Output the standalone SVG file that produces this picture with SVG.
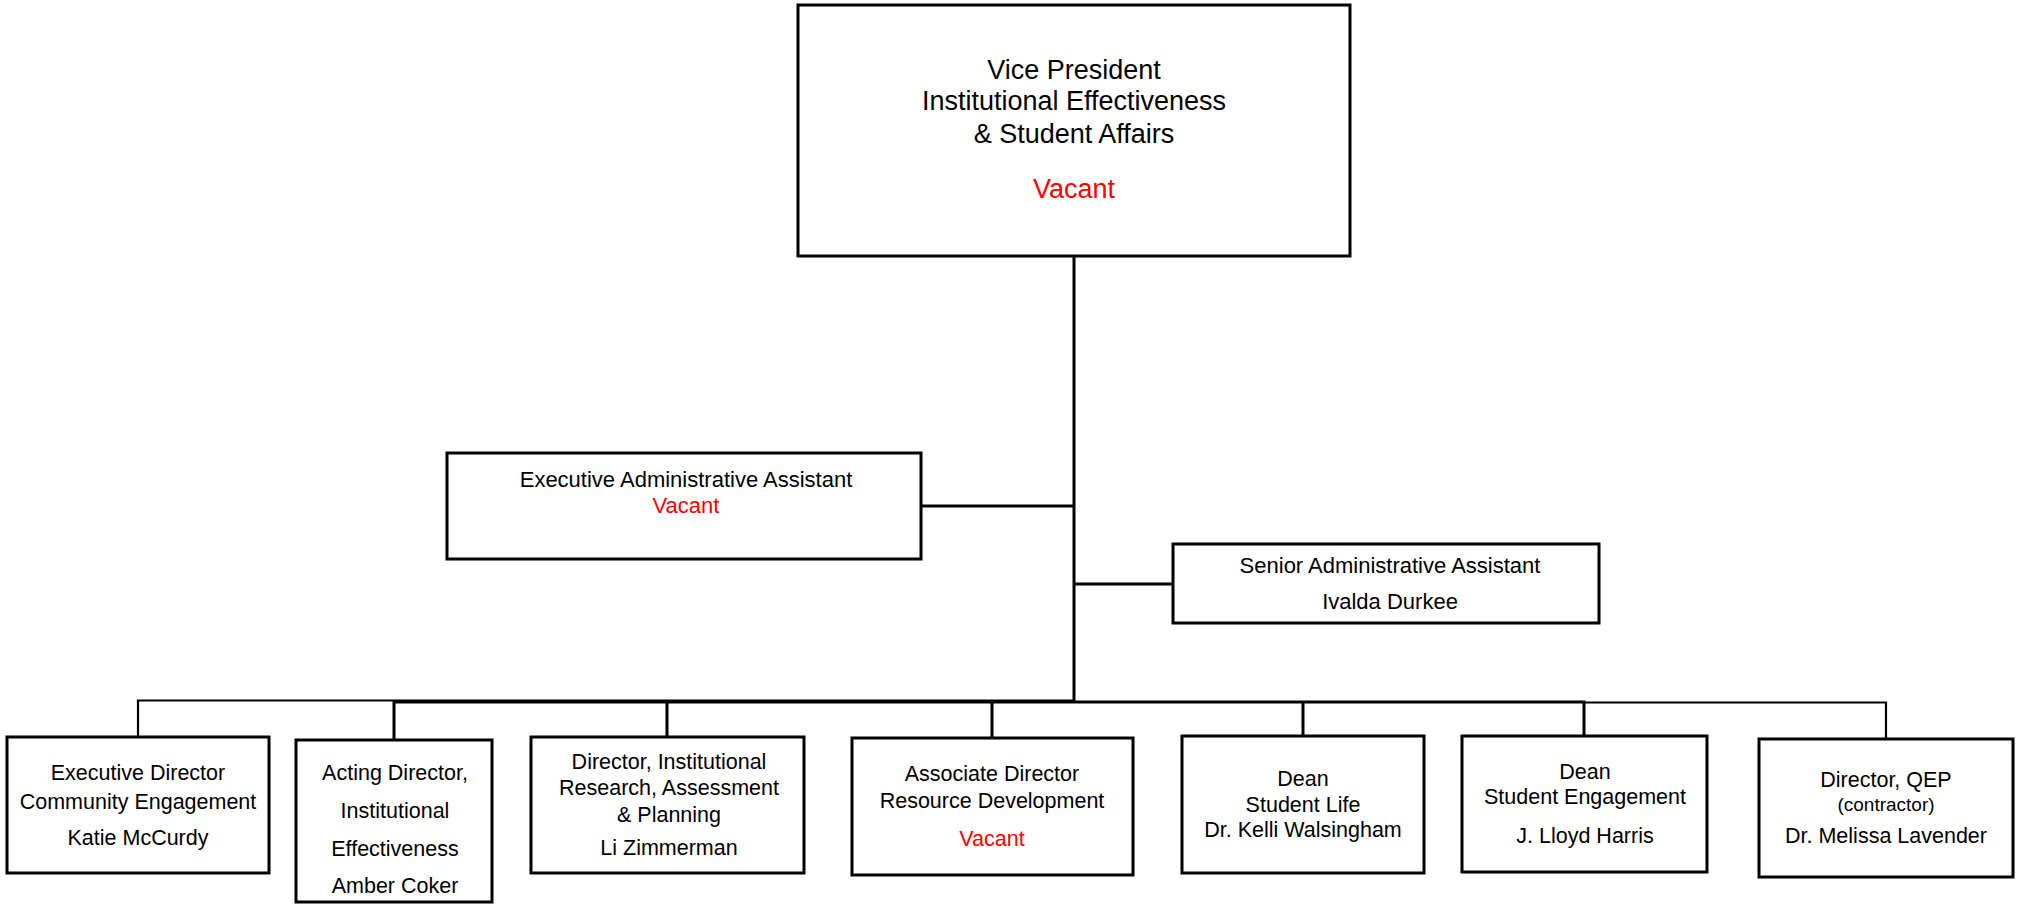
<svg xmlns="http://www.w3.org/2000/svg" width="2021" height="905" viewBox="0 0 2021 905">
<style>
.box{fill:#fff;stroke:#000;stroke-width:3}
.ln{fill:none;stroke:#000;stroke-width:3}
.thin{fill:none;stroke:#000;stroke-width:2.2}
text{font-family:"Liberation Sans",Arial,sans-serif;text-anchor:middle;fill:#000}
.t1{font-size:27px}
.t2{font-size:22px}
.t3{font-size:21.5px}
.t4{font-size:19px}
.red{fill:#ff0000}
</style>
<rect width="2021" height="905" fill="#fff"/>
<g id="connectors">
<path class="ln" d="M1074,256 V701"/>
<path class="ln" d="M921,506 H1074"/>
<path class="ln" d="M1074,584 H1173"/>
<path class="thin" d="M138,737 V700.5 H1074"/>
<path class="ln" d="M394,740 V702 H1584 V736"/>
<path class="ln" d="M667,702 V737"/>
<path class="ln" d="M992,702 V738"/>
<path class="ln" d="M1303,702 V736"/>
<path class="thin" d="M1584,702.5 H1886 V739"/>
</g>
<g id="vp">
<rect class="box" x="798" y="5" width="552" height="251"/>
<text class="t1" x="1074" y="79">Vice President</text>
<text class="t1" x="1074" y="110">Institutional Effectiveness</text>
<text class="t1" x="1074" y="143">&amp; Student Affairs</text>
<text class="t1 red" x="1074" y="198">Vacant</text>
</g>
<g id="exec-admin">
<rect class="box" x="447" y="453" width="474" height="106"/>
<text class="t2" x="686" y="487">Executive Administrative Assistant</text>
<text class="t2 red" x="686" y="513">Vacant</text>
</g>
<g id="senior-admin">
<rect class="box" x="1173" y="544" width="426" height="79"/>
<text class="t2" x="1390" y="573">Senior Administrative Assistant</text>
<text class="t2" x="1390" y="609">Ivalda Durkee</text>
</g>
<g id="exec-dir">
<rect class="box" x="7" y="737" width="262" height="136"/>
<text class="t3" x="138" y="780">Executive Director</text>
<text class="t3" x="138" y="809">Community Engagement</text>
<text class="t3" x="138" y="845">Katie McCurdy</text>
</g>
<g id="acting-dir">
<rect class="box" x="296" y="740" width="196" height="162"/>
<text class="t3" x="395" y="780">Acting Director,</text>
<text class="t3" x="395" y="818">Institutional</text>
<text class="t3" x="395" y="856">Effectiveness</text>
<text class="t3" x="395" y="893">Amber Coker</text>
</g>
<g id="dir-ir">
<rect class="box" x="531" y="737" width="273" height="136"/>
<text class="t3" x="669" y="769">Director, Institutional</text>
<text class="t3" x="669" y="795">Research, Assessment</text>
<text class="t3" x="669" y="822">&amp; Planning</text>
<text class="t3" x="669" y="855">Li Zimmerman</text>
</g>
<g id="assoc-dir">
<rect class="box" x="852" y="738" width="281" height="137"/>
<text class="t3" x="992" y="781">Associate Director</text>
<text class="t3" x="992" y="808">Resource Development</text>
<text class="t3 red" x="992" y="846">Vacant</text>
</g>
<g id="dean-life">
<rect class="box" x="1182" y="736" width="242" height="137"/>
<text class="t3" x="1303" y="786">Dean</text>
<text class="t3" x="1303" y="812">Student Life</text>
<text class="t3" x="1303" y="837">Dr. Kelli Walsingham</text>
</g>
<g id="dean-engagement">
<rect class="box" x="1462" y="736" width="245" height="136"/>
<text class="t3" x="1585" y="779">Dean</text>
<text class="t3" x="1585" y="804">Student Engagement</text>
<text class="t3" x="1585" y="843">J. Lloyd Harris</text>
</g>
<g id="dir-qep">
<rect class="box" x="1759" y="739" width="254" height="138"/>
<text class="t3" x="1886" y="787">Director, QEP</text>
<text class="t4" x="1886" y="811">(contractor)</text>
<text class="t3" x="1886" y="843">Dr. Melissa Lavender</text>
</g>
</svg>
